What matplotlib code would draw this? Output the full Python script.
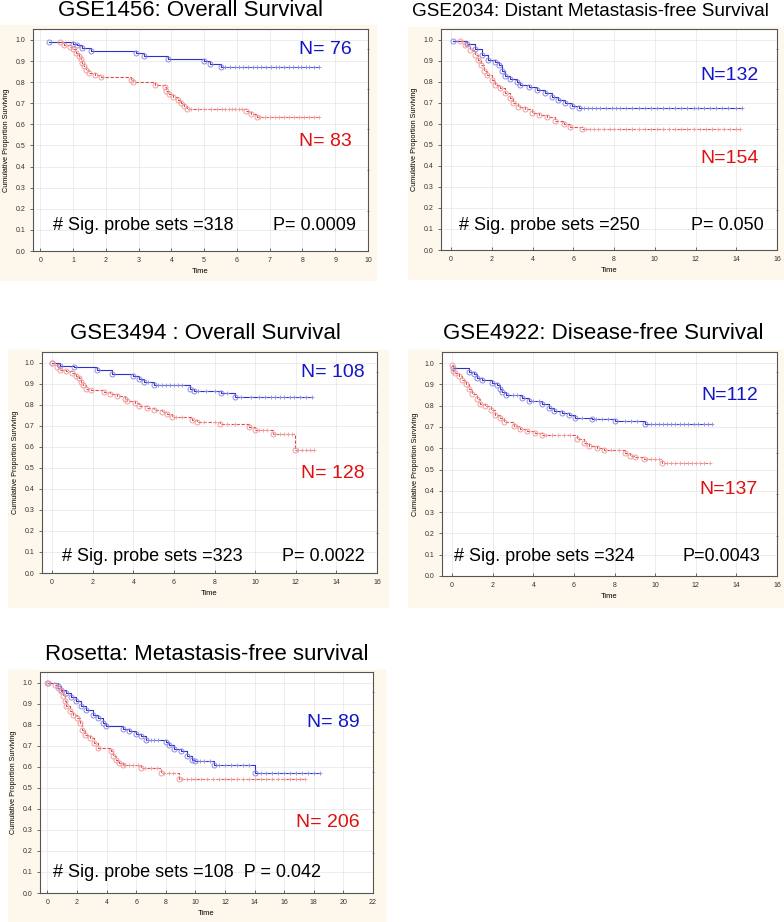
#!/usr/bin/env python3
"""
Curvas de Kaplan-Meier para cinco conjuntos de dados (azul vs vermelho)
"""
import matplotlib.pyplot as plt
from matplotlib.patches import Rectangle
import numpy as np

plt.rcParams['font.family'] = ['Liberation Sans', 'DejaVu Sans']

# ---- GSE1456 ----
gse1456_azul_t = [0.26, 1.0, 1.13, 1.28, 1.56, 2.93, 3.16, 3.9, 5.0, 5.17, 5.52]
gse1456_azul_s = [0.99, 0.98, 0.976, 0.963, 0.95, 0.937, 0.924, 0.911, 0.898, 0.886, 0.873]
gse1456_azul_cens = [5.65, 5.8, 5.95, 6.05, 6.2, 6.35, 6.5, 6.6, 6.75, 6.9, 7.05, 7.2, 7.3,
                     7.45, 7.6, 7.7, 7.85, 7.95, 8.1, 8.2, 8.35, 8.5]
gse1456_verm_t = [0.61, 0.74, 0.9, 1.0, 1.1, 1.17, 1.23, 1.28, 1.35, 1.4, 1.49, 1.66, 1.86,
                  2.78, 2.83, 3.49, 3.8, 3.85, 3.93, 4.05, 4.2, 4.3, 4.39, 4.48, 6.29, 6.44, 6.6]
gse1456_verm_s = [0.99, 0.975, 0.965, 0.955, 0.94, 0.924, 0.908, 0.892, 0.876, 0.86, 0.845,
                  0.834, 0.823, 0.81, 0.80, 0.786, 0.775, 0.76, 0.744, 0.728, 0.715, 0.70,
                  0.687, 0.675, 0.663, 0.649, 0.633]
gse1456_verm_cens = [4.6, 4.8, 5.0, 5.2, 5.4, 5.55, 5.65, 5.75, 5.85, 5.95, 6.05, 6.15, 6.7,
                     6.85, 7.0, 7.15, 7.3, 7.45, 7.6, 7.75, 7.9, 8.05, 8.2, 8.35, 8.5]

# ---- GSE2034 ----
gse2034_azul_t = [0.11, 0.77, 1.18, 1.5, 1.83, 2.16, 2.33, 2.5, 2.65, 2.9, 3.23, 3.4, 3.8,
                  4.2, 4.6, 4.95, 5.27, 5.6, 5.93, 6.26]
gse2034_azul_s = [0.997, 0.98, 0.955, 0.93, 0.905, 0.897, 0.88, 0.85, 0.83, 0.815, 0.80,
                  0.786, 0.775, 0.762, 0.746, 0.727, 0.714, 0.70, 0.686, 0.678]
gse2034_azul_cens = [6.5, 6.7, 6.9, 7.1, 7.3, 7.6, 7.9, 8.1, 8.3, 8.6, 8.9, 9.2, 9.5, 9.8,
                     10.1, 10.4, 10.7, 11.0, 11.3, 11.6, 11.9, 12.1, 12.4, 12.7, 13.0, 13.3,
                     13.6, 14.0, 14.3]
gse2034_verm_t = [0.44, 0.69, 0.93, 1.18, 1.34, 1.47, 1.59, 1.75, 2.0, 2.16, 2.41, 2.65, 2.9,
                  3.06, 3.3, 3.64, 3.96, 4.29, 4.7, 5.1, 5.52, 5.85, 6.42]
gse2034_verm_s = [0.997, 0.976, 0.952, 0.929, 0.905, 0.88, 0.85, 0.833, 0.81, 0.786, 0.77,
                  0.746, 0.722, 0.698, 0.683, 0.67, 0.654, 0.643, 0.632, 0.616, 0.60, 0.587,
                  0.575]
gse2034_verm_cens = [6.6, 6.8, 7.0, 7.2, 7.5, 7.8, 8.0, 8.3, 8.6, 8.9, 9.2, 9.5, 9.8, 10.1,
                     10.4, 10.7, 11.0, 11.3, 11.6, 11.9, 12.2, 12.5, 12.8, 13.1, 13.4, 13.7,
                     14.0, 14.2]

# ---- GSE3494 ----
gse3494_azul_t = [0.0, 0.41, 1.07, 2.2, 2.95, 4.0, 4.27, 4.5, 5.0, 6.8, 6.97, 8.3, 9.0]
gse3494_azul_s = [1.0, 0.987, 0.98, 0.968, 0.948, 0.937, 0.925, 0.91, 0.895, 0.878, 0.865,
                  0.858, 0.84]
gse3494_azul_cens = [4.7, 5.2, 5.4, 5.6, 5.8, 6.0, 6.2, 6.4, 7.2, 7.6, 8.0, 8.6, 9.3, 9.8,
                     10.2, 10.5, 10.8, 11.0, 11.2, 11.4, 11.7, 11.9, 12.2, 12.5, 12.8]
gse3494_verm_t = [0.0, 0.25, 0.41, 0.66, 0.98, 1.15, 1.3, 1.4, 1.53, 1.69, 1.89, 2.54, 2.87,
                  3.2, 3.6, 3.69, 4.1, 4.27, 4.68, 5.0, 5.42, 5.66, 5.9, 6.9, 7.14, 8.29,
                  9.69, 10.0, 10.9, 11.97]
gse3494_verm_s = [1.0, 0.98, 0.968, 0.96, 0.954, 0.94, 0.926, 0.91, 0.894, 0.878, 0.87,
                  0.862, 0.851, 0.842, 0.83, 0.82, 0.807, 0.796, 0.786, 0.778, 0.767, 0.755,
                  0.744, 0.728, 0.717, 0.709, 0.693, 0.68, 0.661, 0.585]
gse3494_verm_cens = [6.1, 6.4, 7.5, 8.0, 8.6, 9.0, 10.2, 10.4, 10.6, 11.0, 11.2, 11.4, 11.6,
                     11.8, 12.1, 12.3, 12.5, 12.7, 12.9]

# ---- GSE4922 ----
gse4922_azul_t = [0.03, 0.82, 1.07, 1.23, 1.48, 1.97, 2.2, 2.38, 2.46, 2.63, 3.45, 3.77,
                  4.43, 4.76, 5.0, 5.41, 5.74, 6.07, 6.9, 8.04, 9.5]
gse4922_azul_s = [0.976, 0.96, 0.948, 0.93, 0.92, 0.905, 0.897, 0.88, 0.865, 0.85, 0.835,
                  0.82, 0.807, 0.79, 0.775, 0.764, 0.755, 0.743, 0.737, 0.727, 0.712]
gse4922_azul_cens = [3.0, 3.2, 4.0, 4.3, 6.4, 7.1, 7.4, 7.7, 8.5, 8.8, 9.1, 9.8, 10.0, 10.2,
                     10.4, 10.6, 10.8, 11.0, 11.2, 11.4, 11.6, 11.9, 12.1, 12.4, 12.6, 12.8]
gse4922_verm_t = [0.0, 0.05, 0.16, 0.33, 0.49, 0.66, 0.82, 0.98, 1.23, 1.39, 1.64, 1.89,
                  2.13, 2.38, 2.54, 3.03, 3.36, 3.69, 4.1, 4.43, 6.15, 6.48, 6.73, 7.14,
                  7.47, 8.53, 8.78, 9.02, 9.43, 10.34]
gse4922_verm_s = [0.99, 0.965, 0.952, 0.937, 0.92, 0.90, 0.88, 0.857, 0.833, 0.81, 0.80,
                  0.78, 0.757, 0.74, 0.723, 0.704, 0.69, 0.68, 0.672, 0.66, 0.644, 0.625,
                  0.612, 0.60, 0.592, 0.578, 0.565, 0.557, 0.549, 0.533]
gse4922_verm_cens = [3.2, 4.6, 4.9, 5.2, 5.5, 5.8, 7.8, 8.2, 9.6, 9.8, 10.0, 10.2, 10.6,
                     10.8, 11.0, 11.2, 11.4, 11.6, 11.8, 12.0, 12.2, 12.4, 12.7]

# ---- Rosetta ----
rosetta_azul_t = [0.04, 0.72, 0.94, 1.28, 1.61, 1.95, 2.28, 2.62, 3.07, 3.4, 3.74, 3.97,
                  5.08, 5.53, 5.98, 6.32, 6.65, 8.0, 8.23, 8.56, 9.0, 9.45, 9.79, 10.0,
                  11.25, 14.0]
rosetta_azul_s = [1.0, 0.984, 0.968, 0.952, 0.933, 0.912, 0.889, 0.87, 0.849, 0.833, 0.809,
                  0.796, 0.78, 0.769, 0.758, 0.745, 0.729, 0.72, 0.705, 0.686, 0.674, 0.65,
                  0.634, 0.626, 0.607, 0.57]
rosetta_azul_cens = [6.8, 7.0, 7.2, 7.5, 10.3, 10.6, 11.0, 11.6, 12.0, 12.4, 12.8, 13.2,
                     13.6, 14.4, 14.8, 15.2, 15.6, 16.0, 16.4, 16.8, 17.2, 17.6, 18.0, 18.4]
rosetta_verm_t = [0.0, 0.5, 0.72, 0.94, 1.05, 1.16, 1.28, 1.5, 1.72, 1.99, 2.17, 2.35, 2.51,
                  2.85, 3.18, 3.4, 4.3, 4.41, 4.64, 4.86, 5.08, 6.32, 7.66, 8.9]
rosetta_verm_s = [1.0, 0.992, 0.976, 0.96, 0.936, 0.912, 0.889, 0.865, 0.849, 0.833, 0.809,
                  0.777, 0.753, 0.737, 0.713, 0.689, 0.674, 0.653, 0.634, 0.618, 0.607,
                  0.594, 0.57, 0.543]
rosetta_verm_cens = [5.2, 5.5, 5.8, 6.1, 6.6, 7.0, 7.4, 7.9, 8.2, 8.5, 9.1, 9.4, 9.7, 10.0,
                     10.4, 10.8, 11.2, 11.6, 12.0, 12.4, 12.8, 13.2, 13.6, 14.0, 14.4, 14.8,
                     15.2, 15.6, 16.0, 16.4, 16.8, 17.1, 17.4]

titulos = ['GSE1456: Overall Survival', 'GSE2034: Distant Metastasis-free Survival',
           'GSE3494 : Overall Survival', 'GSE4922: Disease-free Survival',
           'Rosetta: Metastasis-free survival']
n_azul = ['N= 76', 'N=132', 'N= 108', 'N=112', 'N= 89']
n_verm = ['N= 83', 'N=154', 'N= 128', 'N=137', 'N= 206']
texto_sig = ['# Sig. probe sets =318', '# Sig. probe sets =250', '# Sig. probe sets =323',
             '# Sig. probe sets =324', '# Sig. probe sets =108  P = 0.042']
texto_p = ['P= 0.0009', 'P= 0.050', 'P= 0.0022', 'P=0.0043', '']
x_max = [10, 16, 16, 16, 22]
x_passo = [1, 2, 2, 2, 2]

AZUL = '#3030C4'
AZUL_CLARO = '#8C8CE6'
VERM = '#E04848'
VERM_CLARO = '#F0A0A0'
BEGE = '#FDF8EB'

W, H = 784, 922


def caixa(esq, dir_, topo, base):
    """Converte pixels em coordenadas da figura"""
    return [esq / W, 1 - base / H, (dir_ - esq) / W, (base - topo) / H]


def curva_km(ax, t, s, cens, cor, cor_clara, estilo):
    """Desenha uma curva de Kaplan-Meier com eventos e censuras"""
    t = np.asarray(t)
    s = np.asarray(s)
    cens = np.asarray(cens)
    fim = max(t[-1], cens.max())
    ax.step(np.append(t, fim), np.append(s, s[-1]), where='post',
            color=cor, lw=0.8, ls=estilo, zorder=3)
    ax.plot(t, s, 'o', ms=3.6, mfc='none', mec=cor_clara, mew=0.7, zorder=4)
    # valor da curva no tempo de cada censura
    idx = np.searchsorted(t, cens, side='right') - 1
    ax.plot(cens, s[idx], '+', ms=3.2, color=cor_clara, mew=0.6, zorder=4)


def painel(fig, i, pos, xmin, fundo, titulo, azul, verm, txt_pos):
    # fundo bege do grafico
    e, d, tp, b = fundo
    fig.patches.append(Rectangle((e / W, 1 - b / H), (d - e) / W, (b - tp) / H,
                                 transform=fig.transFigure, color=BEGE, zorder=-10))
    ax = fig.add_axes(caixa(*pos))
    ax.set_zorder(1)
    ax.set_facecolor('white')

    curva_km(ax, *azul, AZUL, AZUL_CLARO, '-')
    curva_km(ax, *verm, VERM, VERM_CLARO, (0, (3, 1.5)))

    ax.set_xlim(xmin, x_max[i])
    ax.set_ylim(0, 1.052)
    ax.set_xticks(np.arange(0, x_max[i] + 0.01, x_passo[i]))
    ax.set_yticks(np.arange(0, 1.01, 0.1))
    ax.set_yticklabels([f'{v:.1f}' for v in np.arange(0, 1.01, 0.1)])
    ax.tick_params(axis='both', labelsize=5, colors='#333333', length=2, width=0.5)
    ax.tick_params(axis='x', direction='in', pad=4)
    ax.grid(True, color='#E6E6E6', lw=0.5)
    ax.set_axisbelow(True)
    for sp in ax.spines.values():
        sp.set_color('#555555')
        sp.set_linewidth(0.8)
    ax.set_xlabel('Time', fontsize=5.5, labelpad=3)
    ax.set_ylabel('Cumulative Proportion Surviving', fontsize=5.2, labelpad=4)

    # marcas no eixo direito
    sec = ax.secondary_yaxis('right')
    sec.set_yticks([0.19, 0.385, 0.577, 0.767, 0.957])
    sec.set_yticklabels([])
    sec.tick_params(length=2, width=0.5, colors='#555555', direction='inout')
    sec.spines['right'].set_visible(False)

    nx, na_y, nv_y, sx, px, sy = txt_pos
    ax.text(nx, na_y, n_azul[i], color='#1414C8', fontsize=14, ha='right', va='center')
    ax.text(nx, nv_y, n_verm[i], color='#E01010', fontsize=14, ha='right', va='center')
    ax.text(sx, sy, texto_sig[i], color='black', fontsize=13, ha='left', va='center')
    if texto_p[i]:
        ax.text(px, sy, texto_p[i], color='black', fontsize=13, ha='right', va='center')

    tx, ty, ha, tam = titulo
    fig.text(tx / W, 1 - ty / H, titulos[i], fontsize=tam, ha=ha, va='center')
    return ax


def main():
    fig = plt.figure(figsize=(W / 100, H / 100), dpi=100)
    fig.patch.set_facecolor('white')

    painel(fig, 0, (33, 368, 29, 251), -0.22, (0, 376, 25, 280), (191, 10, 'center', 16),
           (gse1456_azul_t, gse1456_azul_s, gse1456_azul_cens),
           (gse1456_verm_t, gse1456_verm_s, gse1456_verm_cens),
           (9.5, 0.953, 0.517, 0.39, 9.64, 0.12))
    painel(fig, 1, (441, 777, 29, 250), -0.5, (408, 784, 27, 279), (412, 12, 'left', 13.6),
           (gse2034_azul_t, gse2034_azul_s, gse2034_azul_cens),
           (gse2034_verm_t, gse2034_verm_s, gse2034_verm_cens),
           (15.1, 0.833, 0.437, 0.36, 15.35, 0.119))
    painel(fig, 2, (42, 377, 352, 573), -0.5, (8, 388, 350, 607), (205, 333, 'center', 16),
           (gse3494_azul_t, gse3494_azul_s, gse3494_azul_cens),
           (gse3494_verm_t, gse3494_verm_s, gse3494_verm_cens),
           (15.37, 0.953, 0.475, 0.49, 15.42, 0.079))
    painel(fig, 3, (442, 777, 352, 576), -0.5, (408, 784, 350, 607), (603, 333, 'center', 16),
           (gse4922_azul_t, gse4922_azul_s, gse4922_azul_cens),
           (gse4922_verm_t, gse4922_verm_s, gse4922_verm_cens),
           (15.05, 0.846, 0.407, 0.08, 15.18, 0.093))
    painel(fig, 4, (40, 373, 672, 893), -0.5, (8, 385, 670, 922), (207, 654, 'center', 16),
           (rosetta_azul_t, rosetta_azul_s, rosetta_azul_cens),
           (rosetta_verm_t, rosetta_verm_s, rosetta_verm_cens),
           (21.1, 0.812, 0.334, 0.38, 0, 0.096))

    fig.savefig('out.png', dpi=100)
    plt.close(fig)


if __name__ == '__main__':
    main()
